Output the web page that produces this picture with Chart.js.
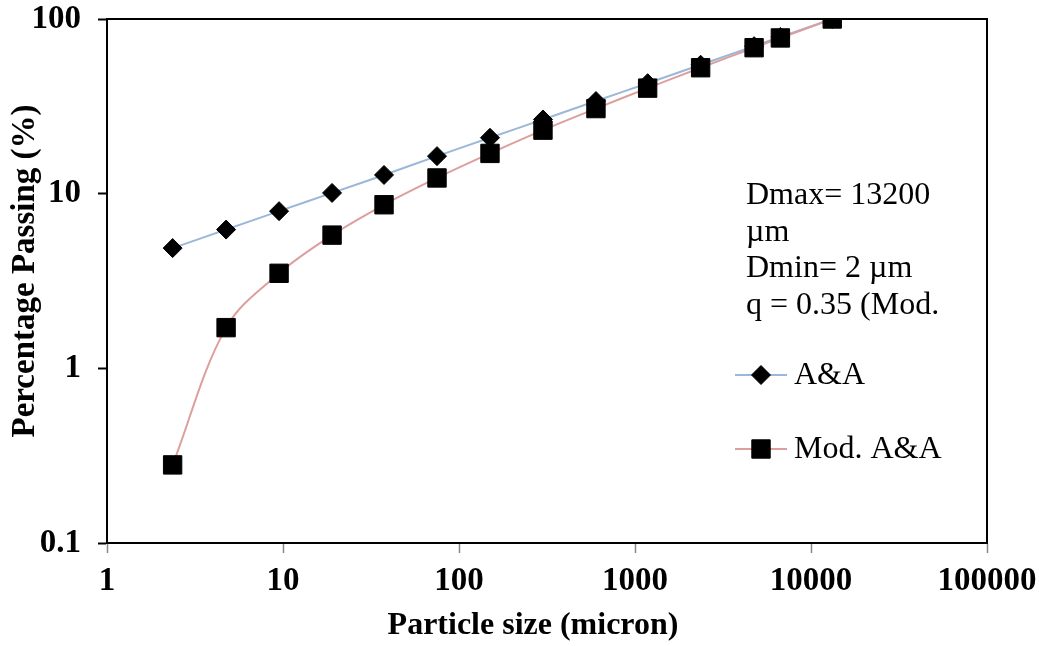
<!DOCTYPE html>
<html>
<head>
<meta charset="utf-8">
<script src="https://cdn.jsdelivr.net/npm/chart.js"></script>
<style>
  html, body { margin: 0; padding: 0; background: #fff; }
  #wrap { width: 1039px; height: 646px; position: relative; }
</style>
</head>
<body>
<div id="wrap"><canvas id="psd"></canvas></div>
<script>
// sieve sizes (micron)
const sizes = [2.36, 4.75, 9.5, 19, 37.5, 75, 150, 300, 600, 1180, 2360, 4750, 6700, 13200];
// percentage passing
const aaPassing = [4.88, 6.23, 7.94, 10.1, 12.8, 16.4, 20.9, 26.6, 33.9, 42.9, 54.7, 69.9, 78.9, 100];
const modPassing = [0.28, 1.71, 3.50, 5.79, 8.64, 12.3, 17.0, 23.1, 30.7, 40.2, 52.6, 68.5, 77.9, 100];
const seriesNames = ["A&A", "Mod. A&A"];
const xTicks = [1, 10, 100, 1000, 10000, 100000];
const yTicks = [0.1, 1, 10, 100];
const xTitle = "Particle size (micron)";
const yTitle = "Percentage Passing (%)";
const noteLines = ["Dmax= 13200", "\u00b5m", "Dmin= 2 \u00b5m", "q = 0.35 (Mod."];

const serif = "'Liberation Serif', 'Times New Roman', serif";

function points(xs, ys) {
  return xs.map((x, i) => ({ x: x, y: ys[i] }));
}

// box around the plot, axis titles, note text and legend
const framePlugin = {
  id: "frame",
  afterDraw(chart) {
    const ctx = chart.ctx;
    const a = chart.chartArea;
    ctx.save();
    ctx.strokeStyle = "#000";
    ctx.lineWidth = 2;
    ctx.strokeRect(a.left, a.top, a.right - a.left, a.bottom - a.top);

    ctx.fillStyle = "#000";
    ctx.textAlign = "center";
    ctx.textBaseline = "middle";
    ctx.font = "bold 32px " + serif;
    ctx.fillText(xTitle, 533, 626);
    ctx.save();
    ctx.translate(25, 271);
    ctx.rotate(-Math.PI / 2);
    ctx.font = "bold 33px " + serif;
    ctx.fillText(yTitle, 0, 0);
    ctx.restore();

    ctx.font = "32px " + serif;
    ctx.textAlign = "left";
    ctx.textBaseline = "alphabetic";
    noteLines.forEach((t, i) => ctx.fillText(t, 746, 204 + i * 36.7));

    const rows = [375, 449];
    chart.data.datasets.forEach((ds, i) => {
      const y = rows[i];
      ctx.strokeStyle = ds.borderColor;
      ctx.lineWidth = 2;
      ctx.beginPath();
      ctx.moveTo(735, y);
      ctx.lineTo(787, y);
      ctx.stroke();
      ctx.fillStyle = "#000";
      ctx.strokeStyle = "#000";
      ctx.lineWidth = 1;
      Chart.helpers.drawPoint(ctx, {
        pointStyle: ds.pointStyle,
        radius: ds.pointRadius,
        borderWidth: 1
      }, 761, y);
      ctx.fillStyle = "#000";
      ctx.textBaseline = "middle";
      ctx.fillText(ds.label, 794, y + 1);
    });
    ctx.restore();
  }
};

new Chart(document.getElementById("psd"), {
  type: "line",
  data: {
    datasets: [
      {
        label: seriesNames[0],
        data: points(sizes, aaPassing),
        borderColor: "#9bb7d9",
        borderWidth: 2,
        pointStyle: "rectRot",
        pointRadius: 9.5,
        pointBackgroundColor: "#000",
        pointBorderColor: "#000",
        pointBorderWidth: 1,
        tension: 0.35,
        order: 1
      },
      {
        label: seriesNames[1],
        data: points(sizes, modPassing),
        borderColor: "#dd9f9d",
        borderWidth: 2,
        pointStyle: "rect",
        pointRadius: 13,
        pointBackgroundColor: "#000",
        pointBorderColor: "#000",
        pointBorderWidth: 1,
        tension: 0.35,
        order: 0
      }
    ]
  },
  options: {
    responsive: true,
    maintainAspectRatio: false,
    animation: false,
    layout: { padding: { top: 19, right: 52, left: 0, bottom: 0 } },
    plugins: {
      legend: { display: false },
      tooltip: { enabled: false }
    },
    scales: {
      x: {
        type: "logarithmic",
        min: 1,
        max: 100000,
        afterBuildTicks(scale) {
          scale.ticks = xTicks.map(v => ({ value: v }));
        },
        afterFit(scale) {
          scale.height = 103;
          scale.paddingLeft = 0;
          scale.paddingRight = 0;
        },
        ticks: {
          color: "#000",
          padding: 9,
          autoSkip: false,
          maxRotation: 0,
          font: { family: serif, size: 33, weight: "bold" },
          callback: v => String(v)
        },
        grid: {
          drawOnChartArea: false,
          tickLength: 10,
          tickColor: "#888",
          tickWidth: 1.5
        },
        border: { color: "#000", width: 2 }
      },
      y: {
        type: "logarithmic",
        min: 0.1,
        max: 100,
        afterBuildTicks(scale) {
          scale.ticks = yTicks.map(v => ({ value: v }));
        },
        afterFit(scale) {
          scale.width = 107;
          scale.paddingTop = 0;
          scale.paddingBottom = 0;
        },
        ticks: {
          color: "#000",
          padding: 17,
          autoSkip: false,
          font: { family: serif, size: 33, weight: "bold" },
          callback: v => String(v)
        },
        grid: {
          drawOnChartArea: false,
          tickLength: 9,
          tickColor: "#000",
          tickWidth: 2
        },
        border: { color: "#000", width: 2 }
      }
    }
  },
  plugins: [framePlugin]
});
</script>
</body>
</html>
